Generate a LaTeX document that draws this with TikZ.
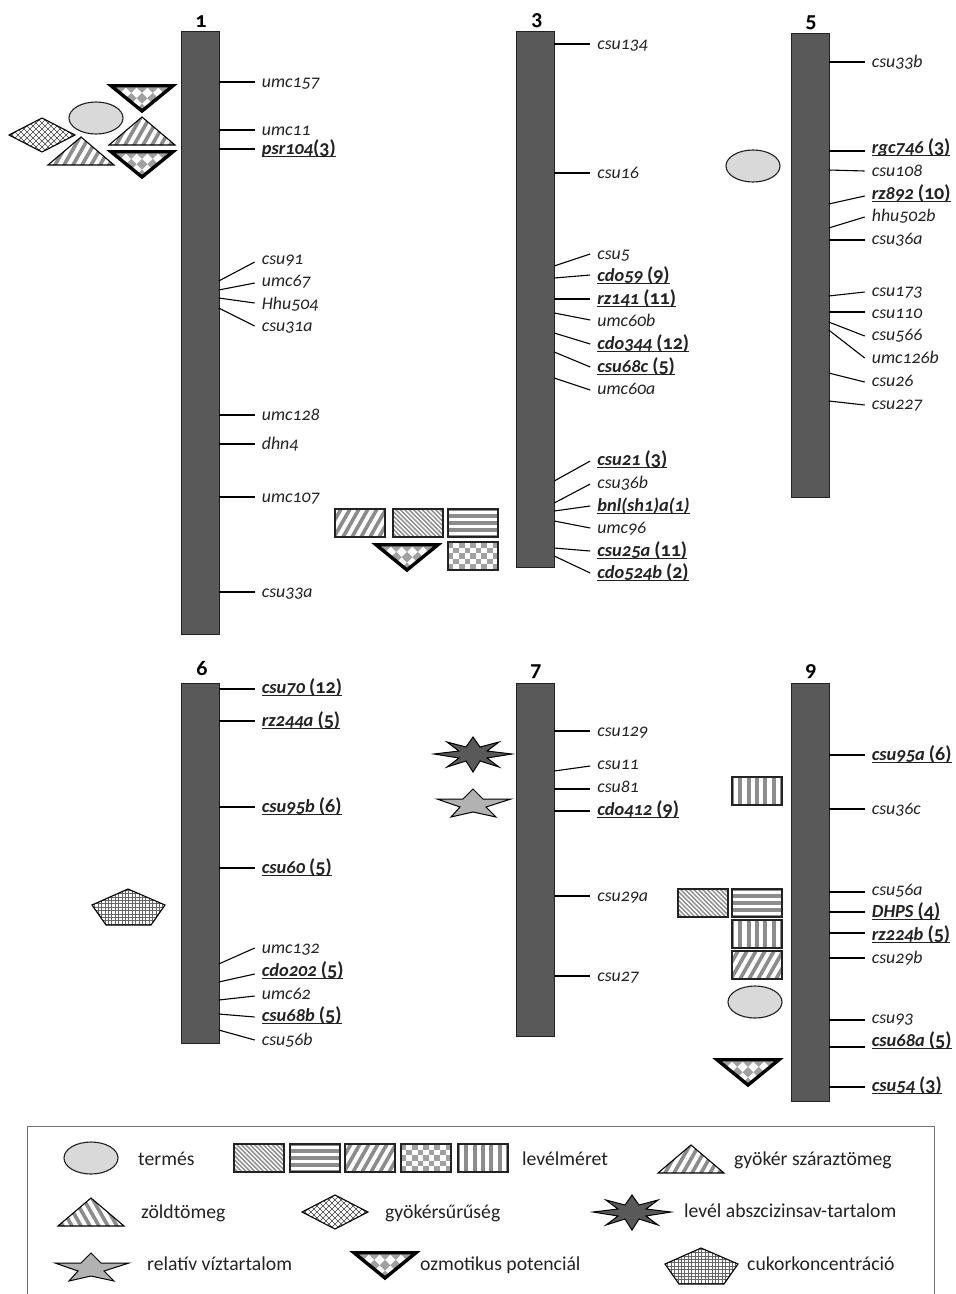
\documentclass[tikz,border=0pt]{standalone}
\usepackage{fontspec}
\setmainfont[Numbers=OldStyle]{Carlito}
\definecolor{ink}{HTML}{222222}
\definecolor{barfill}{HTML}{595959}
\definecolor{patgray}{HTML}{8C8C8C}
\definecolor{checkgray}{HTML}{A0A0A0}
\definecolor{fruit}{HTML}{D9D9D9}
\definecolor{stargray}{HTML}{B2B2B2}
\newcommand\ulab[1]{\setbox0\hbox{#1}\rlap{\rule[-2.6pt]{\wd0}{1.1pt}}\box0}
\newcommand\bmark[2]{\ulab{\fontsize{18.4}{20}\selectfont\bfseries\itshape #1\ifx&#2&\else\upshape\ \fontsize{20}{20}\selectfont #2\fi}}
\tikzset{
 x=1pt,y=-1pt,
 chrom/.style={draw=ink,fill=barfill,line width=1.2pt,rectangle,inner sep=0pt,anchor=north west},
 mlabel/.style={font=\fontsize{17.8}{20}\selectfont\itshape,text=ink,inner xsep=7pt,inner ysep=0pt,text height=10pt,text depth=0pt,anchor=west},
 title/.style={font=\fontsize{22}{24}\selectfont\bfseries,text=black,inner sep=0pt},
 legtext/.style={font=\fontsize{19.7}{22}\selectfont,text=ink,inner sep=0pt,text height=13pt,text depth=0pt,anchor=west},
 tick/.style={draw=black,line width=1.1pt},
 hatchline/.style={draw=patgray},
 boxmark/.style={draw=ink,line width=1.1pt},
 thinmark/.style={draw=black,line width=1.1pt,line join=miter},
 osmo/.style={draw=black,line width=3.4pt,line join=miter,patDiamond},
 fruitmark/.style={draw=ink,fill=fruit,line width=1.1pt},
 patUp/.style={path picture={\foreach \i in {-10,...,10}{\draw[hatchline,line width=3.6pt,shift={(path picture bounding box.center)}] (\i*9-20,35)--(\i*9+20,-35);}}},
 patDown/.style={path picture={\foreach \i in {-10,...,10}{\draw[hatchline,line width=3.6pt,shift={(path picture bounding box.center)}] (\i*9-20,-35)--(\i*9+20,35);}}},
 patThin/.style={path picture={\foreach \i in {-20,...,20}{\draw[hatchline,line width=1.4pt,shift={(path picture bounding box.center)}] (\i*4.4-35,-35)--(\i*4.4+35,35);}}},
 patHoriz/.style={path picture={\foreach \i in {-3,...,3}{\draw[hatchline,line width=3.6pt,shift={(path picture bounding box.center)}] (-40,\i*7)--(40,\i*7);}}},
 patVert/.style={path picture={\foreach \i in {-4,...,4}{\draw[hatchline,line width=4pt,shift={(path picture bounding box.center)}] (\i*8.4,-25)--(\i*8.4,25);}}},
 patCheck/.style={path picture={\foreach \i in {-4,...,4}{\foreach \j in {-2,...,2}{\pgfmathtruncatemacro\k{mod(\i+\j+100,2)}\ifnum\k=0\fill[checkgray,shift={(path picture bounding box.center)}] (\i*5.6-2.8,\j*5.6-2.8) rectangle +(5.6,5.6);\fi}}}},
 patDiamond/.style={path picture={\foreach \i in {-4,...,4}{\foreach \j in {-4,...,4}{\pgfmathtruncatemacro\k{mod(\i+\j+100,2)}\ifnum\k=0\fill[checkgray,shift={(path picture bounding box.center)},rotate=45] (\i*7.6-3.8,\j*7.6-3.8) rectangle +(7.6,7.6);\fi}}}},
 patCross/.style={path picture={\foreach \i in {-12,...,12}{\draw[black!75,line width=0.5pt,shift={(path picture bounding box.center)}] (\i*6-30,-30)--(\i*6+30,30);\draw[black!75,line width=0.5pt,shift={(path picture bounding box.center)}] (\i*6-30,30)--(\i*6+30,-30);}}},
 patGrid/.style={path picture={\foreach \i in {-13,...,13}{\draw[black!60,line width=0.4pt,shift={(path picture bounding box.center)}] (\i*3.4,-25)--(\i*3.4,25);\draw[black!60,line width=0.4pt,shift={(path picture bounding box.center)}] (-45,\i*3.4)--(45,\i*3.4);}}},
}
% tick + label: id, bar, y on bar, y of free end, y of label, text
\newcommand\mk[6]{%
 \node[mlabel] (#1) at ([xshift=35pt]#2.east |- 0,#5) {#6};
 \coordinate (#1b) at ([xshift=-1pt]#2.east |- 0,#3);
 \pgfmathsetmacro\dy{#5-#4}
 \draw[tick] (#1b) -- ([yshift=\dy pt]#1.west);
}
\newcommand\brect[3]{\draw[boxmark,#3] (#1,#2) rectangle +(50,28);}
\newcommand\invtri[2]{\draw[osmo] (#1+5,#2+1.7) -- (#1+67,#2+1.7) -- (#1+36,#2+27) -- cycle;}
\newcommand\tri[3]{\draw[thinmark,#3] (#1,#2) -- (#1+66,#2) -- (#1+33,#2-28) -- cycle;}
\newcommand\dmd[3]{\draw[thinmark,#3] (#1,#2) -- (#1+33,#2-17) -- (#1+66,#2) -- (#1+33,#2+17) -- cycle;}
\newcommand\fruitm[2]{\draw[fruitmark] (#1,#2) ellipse (27 and 16);}
\newcommand\penta[2]{\draw[thinmark,patGrid] (#1,#2) -- (#1+37,#2+16) -- (#1+23,#2+36) -- (#1-22,#2+36) -- (#1-36,#2+16) -- cycle;}
\newcommand\dstar[2]{\draw[draw=black,line width=1pt,fill=barfill,shift={(#1,#2)}] (39,0)--(14,-3)--(26,-12)--(7,-7)--(0,-17)--(-7,-7)--(-26,-12)--(-14,-3)--(-39,0)--(-14,4)--(-26,13)--(-7,7)--(0,18)--(7,7)--(26,13)--(14,4)--cycle;}
\newcommand\gstar[2]{\draw[draw=black,line width=1pt,fill=stargray,shift={(#1,#2)}] (0,-10)--(10,0)--(38,0)--(13,8)--(23,18)--(0,13)--(-22,18)--(-13,8)--(-36,0)--(-10,0)--cycle;}
\begin{document}
\begin{tikzpicture}
\useasboundingbox (0,0) rectangle (956,1294);
\fill[white] (0,0) rectangle (956,1294);
% chromosomes
\node[chrom,minimum width=37.5pt,minimum height=603pt] (c1) at (181,31) {};
\node[chrom,minimum width=38pt,minimum height=536pt] (c3) at (516,31) {};
\node[chrom,minimum width=37.5pt,minimum height=464pt] (c5) at (791,33) {};
\node[chrom,minimum width=37.5pt,minimum height=360pt] (c6) at (181,683) {};
\node[chrom,minimum width=38pt,minimum height=353pt] (c7) at (516,683) {};
\node[chrom,minimum width=37.5pt,minimum height=418pt] (c9) at (791,683) {};
% titles
\node[title] (t1) at (201,22) {1};
\node[title] (t3) at (537,21) {3};
\node[title] (t5) at (811,23) {5};
\node[title] (t6) at (202,668) {6};
\node[title] (t7) at (536,672) {7};
\node[title] (t9) at (811,672) {9};
% chromosome 1
\mk{a1}{c1}{82}{82}{82}{umc157}
\mk{a2}{c1}{130}{130}{130}{umc11}
\mk{a3}{c1}{149}{149}{149}{\ulab{\fontsize{18.4}{20}\selectfont\bfseries\itshape psr104\upshape\fontsize{20}{20}\selectfont(3)}}
\mk{a4}{c1}{281}{262}{259}{csu91}
\mk{a5}{c1}{290}{283}{281}{umc67}
\mk{a6}{c1}{298}{303}{304}{Hhu504}
\mk{a7}{c1}{308}{326}{326}{csu31a}
\mk{a8}{c1}{415}{415}{415}{umc128}
\mk{a9}{c1}{444}{444}{444}{dhn4}
\mk{a10}{c1}{497}{497}{497}{umc107}
\mk{a11}{c1}{592}{592}{592}{csu33a}
% chromosome 3
\mk{b1}{c3}{44}{44}{44}{csu134}
\mk{b2}{c3}{173}{173}{173}{csu16}
\mk{b3}{c3}{266}{254}{254}{csu5}
\mk{b4}{c3}{278}{275}{276}{\bmark{cdo59}{(9)}}
\mk{b5}{c3}{299}{299}{299}{\bmark{rz141}{(11)}}
\mk{b6}{c3}{313}{320}{321}{umc60b}
\mk{b7}{c3}{333}{344}{344}{\bmark{cdo344}{(12)}}
\mk{b8}{c3}{352}{367}{367}{\bmark{csu68c}{(5)}}
\mk{b9}{c3}{378}{390}{389}{umc60a}
\mk{b10}{c3}{481}{461}{460}{\bmark{csu21}{(3)}}
\mk{b11}{c3}{503}{484}{483}{csu36b}
\mk{b12}{c3}{511}{506}{506}{\ulab{\fontsize{18.4}{20}\selectfont\bfseries\itshape bnl(sh1)a(1)}}
\mk{b13}{c3}{521}{528}{528}{umc96}
\mk{b14}{c3}{548}{551}{551}{\bmark{csu25a}{(11)}}
\mk{b15}{c3}{556}{573}{573}{\bmark{cdo524b}{(2)}}
% chromosome 5
\mk{e1}{c5}{62}{62}{62}{csu33b}
\mk{e2}{c5}{151}{151}{148}{\bmark{rgc746}{(3)}}
\mk{e3}{c5}{170}{171}{171}{csu108}
\mk{e4}{c5}{204}{196}{194}{\bmark{rz892}{(10)}}
\mk{e5}{c5}{228}{217}{216}{hhu502b}
\mk{e6}{c5}{240}{240}{239}{csu36a}
\mk{e7}{c5}{296}{292}{291}{csu173}
\mk{e8}{c5}{312}{312}{313}{csu110}
\mk{e9}{c5}{322}{336}{335}{csu566}
\mk{e10}{c5}{330}{358}{358}{umc126b}
\mk{e11}{c5}{373}{382}{381}{csu26}
\mk{e12}{c5}{401}{405}{404}{csu227}
% chromosome 6
\mk{f1}{c6}{689}{689}{688}{\bmark{csu70}{(12)}}
\mk{f2}{c6}{721}{721}{721}{\bmark{rz244a}{(5)}}
\mk{f3}{c6}{807}{807}{807}{\bmark{csu95b}{(6)}}
\mk{f4}{c6}{868}{868}{868}{\bmark{csu60}{(5)}}
\mk{f5}{c6}{964}{948}{948}{umc132}
\mk{f6}{c6}{982}{974}{971}{\bmark{cdo202}{(5)}}
\mk{f7}{c6}{1000}{996}{994}{umc62}
\mk{f8}{c6}{1014}{1017}{1016}{\bmark{csu68b}{(5)}}
\mk{f9}{c6}{1030}{1040}{1040}{csu56b}
% chromosome 7
\mk{g1}{c7}{731}{731}{731}{csu129}
\mk{g2}{c7}{771}{766}{764}{csu11}
\mk{g3}{c7}{789}{789}{787}{csu81}
\mk{g4}{c7}{811}{811}{810}{\bmark{cdo412}{(9)}}
\mk{g5}{c7}{896}{896}{896}{csu29a}
\mk{g6}{c7}{976}{976}{976}{csu27}
% chromosome 9
\mk{h1}{c9}{755}{755}{755}{\bmark{csu95a}{(6)}}
\mk{h2}{c9}{809}{809}{809}{csu36c}
\mk{h3}{c9}{892}{892}{890}{csu56a}
\mk{h4}{c9}{912}{912}{912}{\bmark{DHPS}{(4)}}
\mk{h5}{c9}{933}{933}{935}{\bmark{rz224b}{(5)}}
\mk{h6}{c9}{958}{958}{958}{csu29b}
\mk{h7}{c9}{1020}{1020}{1018}{csu93}
\mk{h8}{c9}{1047}{1047}{1041}{\bmark{csu68a}{(5)}}
\mk{h9}{c9}{1087}{1087}{1086}{\bmark{csu54}{(3)}}
% trait marks, chromosome 1
\invtri{106}{84}
\fruitm{96}{118}
\dmd{9}{135}{patCross}
\tri{109}{145}{patUp}
\tri{48}{165}{patUp}
\invtri{106}{150}
% chromosome 3
\brect{335}{509}{patUp}
\brect{393}{509}{patThin}
\brect{448}{509}{patHoriz}
\invtri{371}{543}
\brect{448}{542}{patCheck}
% chromosome 5
\fruitm{753}{166}
% chromosome 6
\penta{128}{889}
% chromosome 7
\dstar{473}{754}
\gstar{473}{799}
% chromosome 9
\brect{732}{777}{patVert}
\brect{678}{889}{patThin}
\brect{732}{889}{patHoriz}
\brect{732}{920}{patVert}
\brect{732}{951}{patUp}
\fruitm{755}{1002}
\invtri{712}{1058}
% legend
\draw[draw=black!55,line width=1pt] (27,1294) -- (27,1126) -- (934,1126) -- (934,1294);
\fruitm{91}{1158}
\node[legtext] (l1) at (138,1159) {termés};
\brect{234}{1144}{patThin}
\brect{290}{1144}{patHoriz}
\brect{345}{1144}{patUp}
\brect{401}{1144}{patCheck}
\brect{458}{1144}{patVert}
\node[legtext] (l2) at (522,1159) {levélméret};
\tri{658}{1173}{patUp}
\node[legtext] (l3) at (734,1159) {gyökér száraztömeg};
\tri{58}{1226}{patDown}
\node[legtext] (l4) at (141,1212) {zöldtömeg};
\dmd{302}{1212}{patCross}
\node[legtext] (l5) at (385,1212) {gyökérsűrűség};
\dstar{632}{1212}
\node[legtext] (l6) at (684,1211) {levél abszcizinsav-tartalom};
\gstar{91}{1263}
\node[legtext] (l7) at (147,1264) {relatív víztartalom};
\invtri{349}{1251}
\node[legtext] (l8) at (420,1264) {ozmotikus potenciál};
\penta{701}{1248}
\node[legtext] (l9) at (747,1264) {cukorkoncentráció};
\end{tikzpicture}
\end{document}
